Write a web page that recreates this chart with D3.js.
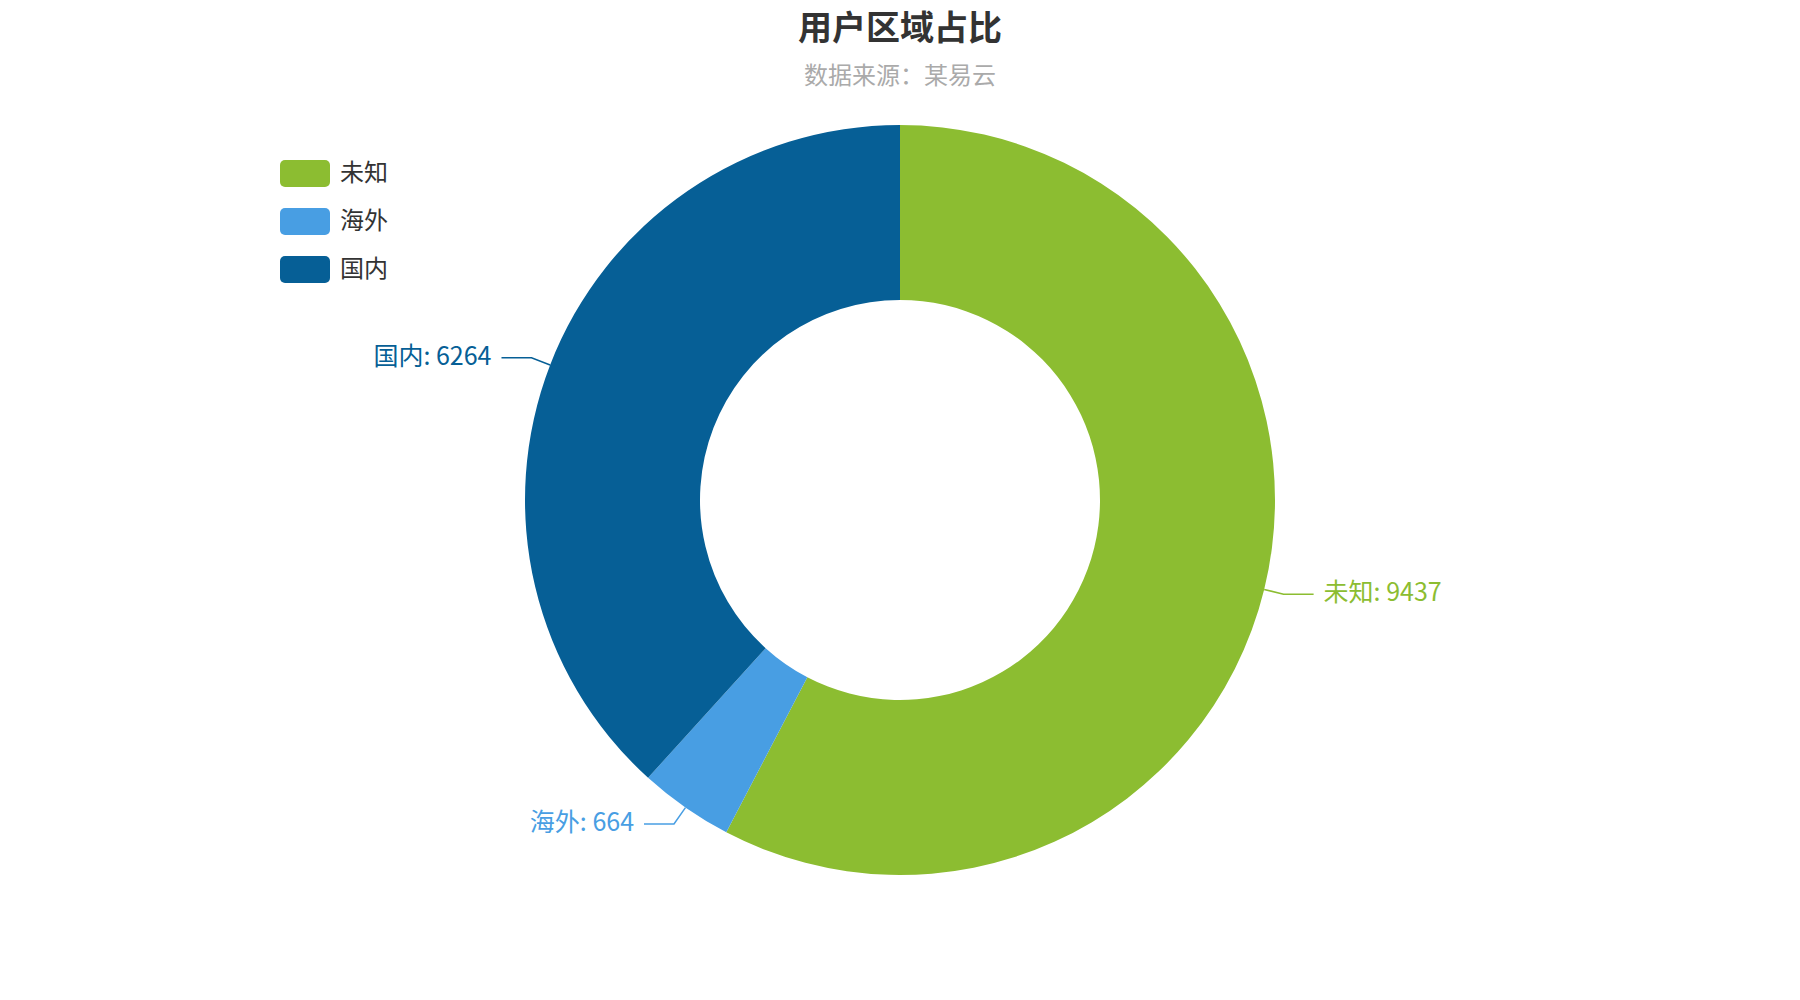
<!DOCTYPE html>
<html>
<head>
<meta charset="utf-8">
<script src="https://cdn.jsdelivr.net/npm/d3@7"></script>
<style>
  html, body { margin: 0; padding: 0; background: #fff; }
  svg { display: block; font-family: "Noto Sans CJK SC", "Noto Sans", sans-serif; }
</style>
</head>
<body>
<div id="chart"></div>
<script>
const categories = ['未知', '海外', '国内'];
const values = [9437, 664, 6264];
const colors = ['#8cbd31', '#489ee3', '#065f96'];
const titleText = '用户区域占比';
const subtitleText = '数据来源：某易云';

const width = 1800, height = 1000;
const cx = width / 2, cy = height / 2;
const outerR = 375, innerR = 200;
const lineLen1 = 20, lineLen2 = 30; // label line segments

const svg = d3.select('#chart').append('svg')
  .attr('width', width)
  .attr('height', height);

// title + subtitle
svg.append('text')
  .attr('x', cx).attr('y', 25)
  .attr('text-anchor', 'middle')
  .attr('dominant-baseline', 'central')
  .attr('font-size', 34).attr('font-weight', 'bold')
  .attr('fill', '#333')
  .text(titleText);

svg.append('text')
  .attr('x', cx).attr('y', 73)
  .attr('text-anchor', 'middle')
  .attr('dominant-baseline', 'central')
  .attr('font-size', 24)
  .attr('fill', '#aaa')
  .text(subtitleText);

const data = categories.map((c, i) => ({ name: c, value: values[i], color: colors[i] }));

const pie = d3.pie().value(d => d.value).sort(null);
const arcs = pie(data);

const arc = d3.arc().innerRadius(innerR).outerRadius(outerR);

const g = svg.append('g').attr('transform', `translate(${cx},${cy})`);

g.selectAll('path.slice')
  .data(arcs)
  .join('path')
    .attr('class', 'slice')
    .attr('d', arc)
    .attr('fill', d => d.data.color);

// labels with leader lines
arcs.forEach(d => {
  const mid = (d.startAngle + d.endAngle) / 2;
  const dx = Math.sin(mid), dy = -Math.cos(mid);
  const side = dx < 0 ? -1 : 1;
  const p1 = [outerR * dx, outerR * dy];
  const p2 = [(outerR + lineLen1) * dx, (outerR + lineLen1) * dy];
  const p3 = [p2[0] + side * lineLen2, p2[1]];

  g.append('polyline')
    .attr('points', [p1, p2, p3].map(p => p.join(',')).join(' '))
    .attr('fill', 'none')
    .attr('stroke', d.data.color)
    .attr('stroke-width', 1.5);

  g.append('text')
    .attr('x', p3[0] + side * 10)
    .attr('y', p3[1] - 4)
    .attr('text-anchor', side < 0 ? 'end' : 'start')
    .attr('dominant-baseline', 'central')
    .attr('font-size', 25)
    .attr('fill', d.data.color)
    .text(`${d.data.name}: ${d.data.value}`);
});

// legend
const legend = svg.append('g').attr('transform', 'translate(280,160)');
const rows = legend.selectAll('g')
  .data(data)
  .join('g')
    .attr('transform', (d, i) => `translate(0,${i * 48})`);

rows.append('rect')
  .attr('width', 50).attr('height', 27)
  .attr('rx', 5).attr('ry', 5)
  .attr('fill', d => d.color);

rows.append('text')
  .attr('x', 60).attr('y', 10.5)
  .attr('dominant-baseline', 'central')
  .attr('font-size', 24)
  .attr('fill', '#333')
  .text(d => d.name);
</script>
</body>
</html>
